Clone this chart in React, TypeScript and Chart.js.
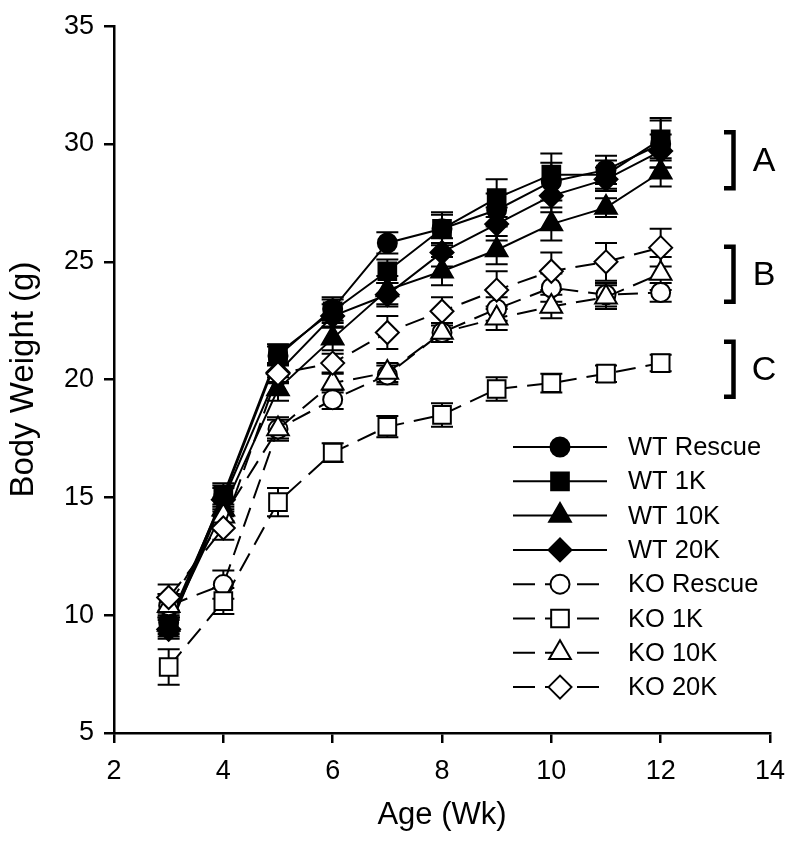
import React, { useEffect, useRef } from 'react';
import { Chart, registerables } from 'chart.js';

Chart.register(...registerables);

// ---------------- data ----------------
const weeks = [3, 4, 5, 6, 7, 8, 9, 10, 11, 12];
const xTickValues = [2, 4, 6, 8, 10, 12, 14];
const yTickValues = [5, 10, 15, 20, 25, 30, 35];

const seriesNames = ['WT Rescue', 'WT 1K', 'WT 10K', 'WT 20K', 'KO Rescue', 'KO 1K', 'KO 10K', 'KO 20K'];

const wtRescue = [9.7, 15.0, 21.0, 23.0, 25.8, 26.4, 27.2, 28.4, 28.9, 30.0];
const wt1K = [9.5, 15.1, 21.1, 22.9, 24.6, 26.4, 27.7, 28.7, 28.7, 30.2];
const wt10K = [9.6, 14.5, 19.6, 21.75, 23.8, 24.6, 25.5, 26.6, 27.3, 28.8];
const wt20K = [9.4, 14.9, 20.3, 22.7, 23.6, 25.4, 26.6, 27.8, 28.5, 29.7];
const koRescue = [10.4, 11.3, 17.9, 19.15, 20.2, 22.0, 23.0, 23.9, 23.6, 23.7];
const ko1K = [7.8, 10.6, 14.8, 16.9, 18.0, 18.5, 19.6, 19.85, 20.25, 20.7];
const ko10K = [10.4, 14.2, 17.9, 19.85, 20.3, 22.0, 22.6, 23.1, 23.5, 24.5];
const ko20K = [10.75, 13.7, 20.25, 20.7, 22.0, 22.9, 23.8, 24.6, 25.0, 25.6];

const wtRescueErr = [0.4, 0.5, 0.4, 0.5, 0.45, 0.6, 0.7, 0.8, 0.6, 1.0];
const wt1KErr = [0.4, 0.5, 0.4, 0.5, 0.5, 0.7, 0.8, 0.9, 0.6, 0.9];
const wt10KErr = [0.4, 0.5, 0.5, 0.5, 0.6, 0.6, 0.6, 0.7, 0.4, 0.6];
const wt20KErr = [0.4, 0.5, 0.4, 0.5, 0.5, 0.6, 0.7, 0.7, 0.5, 0.7];
const koRescueErr = [0.5, 0.6, 0.5, 0.4, 0.4, 0.4, 0.5, 0.6, 0.5, 0.4];
const ko1KErr = [0.75, 0.55, 0.6, 0.4, 0.45, 0.5, 0.5, 0.4, 0.35, 0.35];
const ko10KErr = [0.5, 0.5, 0.4, 0.4, 0.4, 0.4, 0.5, 0.5, 0.5, 0.7];
const ko20KErr = [0.55, 0.5, 0.4, 0.4, 0.7, 0.6, 0.8, 0.8, 0.8, 0.8];

const seriesValues = [wtRescue, wt1K, wt10K, wt20K, koRescue, ko1K, ko10K, ko20K];
const seriesErrors = [wtRescueErr, wt1KErr, wt10KErr, wt20KErr, koRescueErr, ko1KErr, ko10KErr, ko20KErr];

const bracketLabels = ['A', 'B', 'C'];
const bracketTops = [30.58, 25.72, 21.69];
const bracketBottoms = [28.04, 23.22, 19.19];

// ---------------- styles ----------------
const FONT = '"Liberation Sans", Arial, Helvetica, sans-serif';
const markerStyles = ['circle', 'rect', 'triangle', 'rectRot', 'circle', 'rect', 'triangle', 'rectRot'];
const markerRadius: Record<string, number> = { circle: 9.5, rect: 12.5, triangle: 12.5, rectRot: 11.5 };
const isFilled = [true, true, true, true, false, false, false, false];
const DASH = [20, 10];

function drawMarker(ctx: CanvasRenderingContext2D, style: string, x: number, y: number, filled: boolean) {
  const r = markerRadius[style];
  ctx.beginPath();
  if (style === 'circle') {
    ctx.arc(x, y, r, 0, Math.PI * 2);
  } else if (style === 'rect') {
    const s = r * Math.SQRT1_2;
    ctx.rect(x - s, y - s, 2 * s, 2 * s);
  } else if (style === 'triangle') {
    ctx.moveTo(x, y - r);
    ctx.lineTo(x + r * Math.sin((2 * Math.PI) / 3), y - r * Math.cos((2 * Math.PI) / 3));
    ctx.lineTo(x + r * Math.sin((4 * Math.PI) / 3), y - r * Math.cos((4 * Math.PI) / 3));
    ctx.closePath();
  } else {
    ctx.moveTo(x - r, y);
    ctx.lineTo(x, y - r);
    ctx.lineTo(x + r, y);
    ctx.lineTo(x, y + r);
    ctx.closePath();
  }
  ctx.setLineDash([]);
  ctx.fillStyle = filled ? '#000' : '#fff';
  ctx.fill();
  ctx.lineWidth = 2;
  ctx.strokeStyle = '#000';
  ctx.stroke();
}

const errorBarPlugin = {
  id: 'errorBars',
  beforeDatasetsDraw(chart: any) {
    const { ctx } = chart;
    const xs = chart.scales.x;
    const ys = chart.scales.y;
    ctx.save();
    ctx.strokeStyle = '#000';
    ctx.lineWidth = 2;
    ctx.setLineDash([]);
    const cap = 11;
    chart.data.datasets.forEach((ds: any) => {
      ds.data.forEach((p: any, j: number) => {
        const e = ds.errors[j];
        const px = xs.getPixelForValue(p.x);
        const yt = ys.getPixelForValue(p.y + e);
        const yb = ys.getPixelForValue(p.y - e);
        ctx.beginPath();
        ctx.moveTo(px, yt);
        ctx.lineTo(px, yb);
        ctx.moveTo(px - cap, yt);
        ctx.lineTo(px + cap, yt);
        ctx.moveTo(px - cap, yb);
        ctx.lineTo(px + cap, yb);
        ctx.stroke();
      });
    });
    ctx.restore();
  },
};

const legendPlugin = {
  id: 'customLegend',
  afterDraw(chart: any) {
    const { ctx } = chart;
    ctx.save();
    const x0 = 513;
    const y0 = 447;
    const rowH = 34.3;
    seriesNames.forEach((name, i) => {
      const y = y0 + i * rowH;
      ctx.strokeStyle = '#000';
      ctx.lineWidth = 2;
      ctx.beginPath();
      if (isFilled[i]) {
        ctx.setLineDash([]);
        ctx.moveTo(x0, y);
        ctx.lineTo(x0 + 94, y);
      } else {
        ctx.setLineDash([22, 10]);
        ctx.moveTo(x0, y);
        ctx.lineTo(x0 + 86, y);
      }
      ctx.stroke();
      drawMarker(ctx, markerStyles[i], 560, y, isFilled[i]);
      ctx.fillStyle = '#000';
      ctx.font = `25.5px ${FONT}`;
      ctx.textAlign = 'left';
      ctx.textBaseline = 'middle';
      ctx.fillText(name, 628, y + 1);
    });
    ctx.restore();
  },
};

const bracketPlugin = {
  id: 'brackets',
  afterDraw(chart: any) {
    const { ctx } = chart;
    const ys = chart.scales.y;
    ctx.save();
    ctx.strokeStyle = '#000';
    ctx.fillStyle = '#000';
    ctx.lineWidth = 4.5;
    ctx.setLineDash([]);
    ctx.lineJoin = 'miter';
    bracketLabels.forEach((lab, i) => {
      const yt = ys.getPixelForValue(bracketTops[i]);
      const yb = ys.getPixelForValue(bracketBottoms[i]);
      ctx.beginPath();
      ctx.moveTo(724, yt + 2);
      ctx.lineTo(733.5, yt + 2);
      ctx.lineTo(733.5, yb - 2);
      ctx.lineTo(724, yb - 2);
      ctx.stroke();
      ctx.font = `34px ${FONT}`;
      ctx.textAlign = 'center';
      ctx.textBaseline = 'middle';
      ctx.fillText(lab, 764, (yt + yb) / 2 + 1);
    });
    ctx.restore();
  },
};

export default function App() {
  const canvasRef = useRef<HTMLCanvasElement | null>(null);

  useEffect(() => {
    if (!canvasRef.current) return;
    Chart.defaults.font.family = FONT;
    Chart.defaults.color = '#000';

    const n = seriesNames.length;
    const datasets = seriesNames.map((name, i) => ({
      label: name,
      data: weeks.map((w, j) => ({ x: w, y: seriesValues[i][j] })),
      errors: seriesErrors[i],
      order: n - i,
      borderColor: '#000',
      borderWidth: 2,
      borderDash: isFilled[i] ? [] : DASH,
      backgroundColor: isFilled[i] ? '#000' : '#fff',
      pointStyle: markerStyles[i],
      pointRadius: markerRadius[markerStyles[i]],
      pointBorderWidth: 2,
      pointBorderColor: '#000',
      pointBackgroundColor: isFilled[i] ? '#000' : '#fff',
      tension: 0,
      fill: false,
    }));

    const chart = new Chart(canvasRef.current, {
      type: 'line',
      data: { datasets } as any,
      options: {
        animation: false,
        responsive: true,
        maintainAspectRatio: false,
        layout: { padding: { top: 24, right: 30, left: 0, bottom: 0 } },
        plugins: {
          legend: { display: false },
          tooltip: { enabled: false },
        },
        scales: {
          x: {
            type: 'linear',
            min: xTickValues[0],
            max: xTickValues[xTickValues.length - 1],
            afterBuildTicks: (s: any) => {
              s.ticks = xTickValues.map((v) => ({ value: v }));
            },
            afterFit: (s: any) => {
              s.height = 110;
            },
            grid: { drawOnChartArea: false, color: '#000', lineWidth: 2.5, tickLength: 10 },
            border: { display: true, color: '#000', width: 2.5 },
            ticks: { color: '#000', font: { size: 27 }, padding: 12, maxRotation: 0, autoSkip: false },
            title: { display: true, text: 'Age (Wk)', color: '#000', font: { size: 31 }, padding: { top: 0, bottom: 9 } },
          },
          y: {
            type: 'linear',
            min: yTickValues[0],
            max: yTickValues[yTickValues.length - 1],
            afterBuildTicks: (s: any) => {
              s.ticks = yTickValues.map((v) => ({ value: v }));
            },
            afterFit: (s: any) => {
              s.width = 114;
            },
            grid: { drawOnChartArea: false, color: '#000', lineWidth: 2.5, tickLength: 10 },
            border: { display: true, color: '#000', width: 2.5 },
            ticks: { color: '#000', font: { size: 27 }, padding: 10, autoSkip: false },
            title: { display: true, text: 'Body Weight (g)', color: '#000', font: { size: 33 }, padding: { top: 4, bottom: 0 } },
          },
        },
      } as any,
      plugins: [errorBarPlugin, legendPlugin, bracketPlugin],
    });

    return () => chart.destroy();
  }, []);

  return (
    <div style={{ position: 'absolute', left: 0, top: 0, width: 800, height: 843, background: '#fff' }}>
      <canvas ref={canvasRef} />
    </div>
  );
}
